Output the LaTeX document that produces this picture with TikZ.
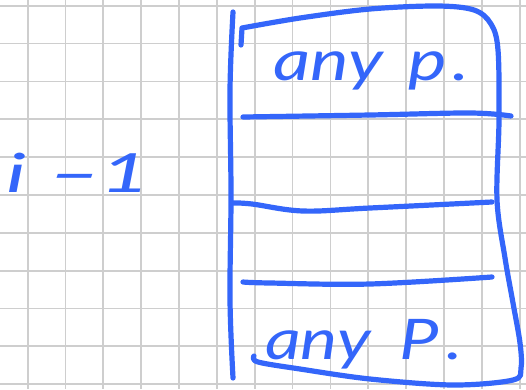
\documentclass[tikz,border=0pt]{standalone}
\usepackage{fontspec}
\setmainfont{Lato}
\definecolor{ink}{RGB}{52,102,250}
\definecolor{gridgray}{RGB}{206,206,206}
\tikzset{
  pen/.style={ink, line width=5.2pt, line cap=round, line join=round},
  gridline/.style={gridgray, line width=1.8pt},
  inktext/.style={ink, inner sep=0pt},
}
\newcommand{\handfont}[2]{\itshape\fontsize{#1}{#1}\selectfont\addfontfeature{FakeStretch=#2}}
\begin{document}
\begin{tikzpicture}[x=1pt, y=-1pt]
  \useasboundingbox (0,0) rectangle (526,389);
  \fill[white] (0,0) rectangle (526,389);

  % squared paper
  \foreach \i in {0,...,13}
    \draw[gridline] ({27.6+37.85*\i},0) -- ({27.6+37.85*\i},389);
  \foreach \j in {0,...,10}
    \draw[gridline] (0,{5.7+37.85*\j}) -- (526,{5.7+37.85*\j});

  % long bracket on the left of the stack
  \draw[pen] plot[smooth, tension=0.6] coordinates
    {(233,12) (230,90) (231,195) (230,300) (233,378)};

  % outline of the stack
  \draw[pen] (241,45) -- (242,28)
    plot[smooth, tension=0.55] coordinates
    {(242,28) (300,18) (370,9) (437,6) (474,10) (491,24) (498,50)
     (499,120) (497,200) (505,258) (513,303) (520,343) (521,368)
     (513,380) (453,385) (370,379) (300,369) (258,362) (254,356)};

  % row dividers
  \draw[pen] plot[smooth, tension=0.6] coordinates
    {(243,117) (370,115) (470,113) (511,116)};
  \draw[pen] plot[smooth, tension=0.6] coordinates
    {(233,203) (252,204) (303,211) (370,208) (492,202)};
  \draw[pen] plot[smooth, tension=0.6] coordinates
    {(243,282) (270,283) (370,284) (492,277)};

  % labels
  \node[inktext, anchor=base west, font=\handfont{56}{1.3}] (toprow)
    at (273,80) {any\hspace{8pt} p\kern6pt.};
  \node[inktext, anchor=base west, font=\handfont{56}{1.25}] (bottomrow)
    at (265,359) {any\hspace{12pt} P\kern8pt.};
  \node[inktext, anchor=base west, font=\handfont{54}{1.6}] (index)
    at (6,192) {i\kern22pt{\addfontfeature{FakeStretch=2.8}-}\kern-1pt1};
\end{tikzpicture}
\end{document}
